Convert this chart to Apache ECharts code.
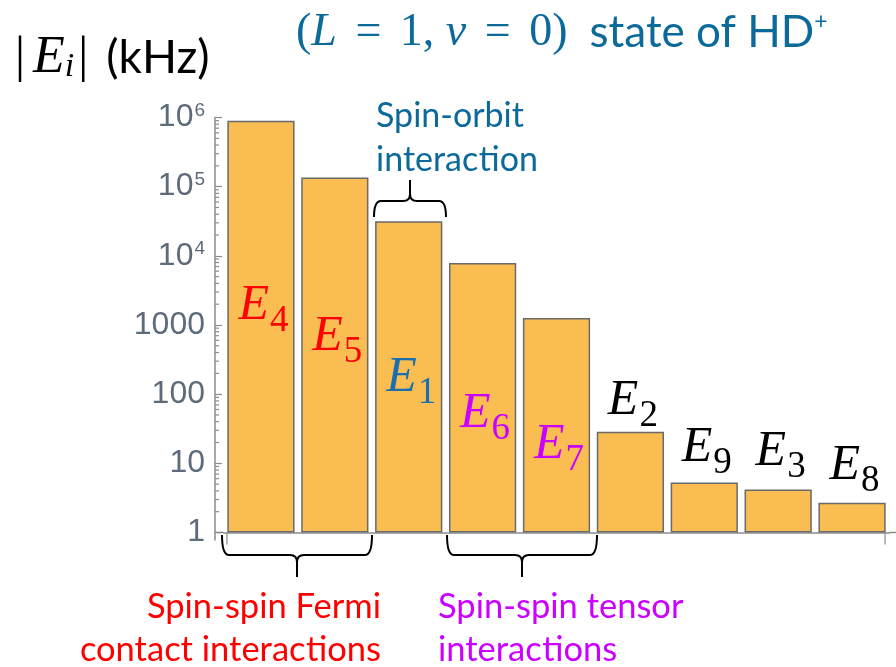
<!DOCTYPE html>
<html>
<head>
<meta charset="utf-8">
<script src="https://cdn.jsdelivr.net/npm/echarts@6/dist/echarts.min.js"></script>
<style>html,body{margin:0;padding:0;background:#fff;}#c{width:896px;height:667px;}</style>
</head>
<body>
<div id="c"></div>
<script>
// ---- data ----
var categories = ['E4', 'E5', 'E1', 'E6', 'E7', 'E2', 'E9', 'E3', 'E8'];
var labelMain = ['E', 'E', 'E', 'E', 'E', 'E', 'E', 'E', 'E'];
var labelSub = ['4', '5', '1', '6', '7', '2', '9', '3', '8'];
var values = [900000, 136000, 31600, 7900, 1260, 28.6, 5.3, 4.2, 2.7];
var labelColors = ['#ff0000', '#ff0000', '#1a6fb0', '#cc00ff', '#cc00ff', '#000000', '#000000', '#000000', '#000000'];
var labelMidY = [306, 337, 378, 414, 445, 401, 448, 452, 466];
var yTickValues = [1, 10, 100, 1000, 10000, 100000, 1000000];
var yTickLabels = ['1', '10', '100', '1000', '10{sup|4}', '10{sup|5}', '10{sup|6}'];
var minorTickValues = [];
for (var k = 0; k < 6; k++) { for (var m = 2; m <= 9; m++) { minorTickValues.push(m * Math.pow(10, k)); } }

var chart = echarts.init(document.getElementById('c'));
var axisGray = '#8c8c8c';
var tickColor = '#5e6b7a';

chart.setOption({
  animation: false,
  backgroundColor: '#ffffff',
  grid: { left: 224, right: 7, top: 117.5, bottom: 134.5, containLabel: false },
  xAxis: {
    type: 'category',
    data: categories,
    axisLine: { show: true, lineStyle: { color: axisGray, width: 1.5 } },
    axisTick: { show: false },
    axisLabel: { show: false },
    splitLine: { show: false }
  },
  yAxis: {
    type: 'log',
    logBase: 10,
    min: 1,
    max: 1000000,
    offset: 9,
    axisLine: { show: true, lineStyle: { color: axisGray, width: 1.5 } },
    axisTick: { show: true, inside: true, length: 7, lineStyle: { color: axisGray, width: 1.2 } },
    minorTick: { show: false },
    splitLine: { show: false },
    axisLabel: {
      margin: 10,
      color: tickColor,
      fontFamily: 'Liberation Sans',
      fontSize: 32,
      formatter: function (v) {
        var i = yTickValues.indexOf(Math.round(v));
        return i >= 0 ? yTickLabels[i] : '';
      },
      rich: {
        sup: { fontSize: 19, color: tickColor, fontFamily: 'Liberation Sans', verticalAlign: 'top', padding: [0, 0, 14, 1] }
      }
    }
  },
  series: [
    {
      type: 'bar',
      data: values,
      barCategoryGap: '9%',
      itemStyle: { color: '#f9bd52', borderColor: '#6a6a6a', borderWidth: 1.5 }
    },
    {
      type: 'custom',
      data: minorTickValues,
      encode: { y: 0 },
      clip: false,
      silent: true,
      renderItem: function (params, api) {
        var y = api.coord([0, api.value(0)])[1];
        var x0 = params.coordSys.x - 9;
        return { type: 'line', shape: { x1: x0, y1: y, x2: x0 + 4, y2: y }, style: { stroke: axisGray, lineWidth: 1.2 } };
      }
    }
  ]
});

// ---- annotations ----
var g = [];
var Z = 100;
var y1 = chart.convertToPixel({ yAxisIndex: 0 }, 1);
function ln(xa, ya, xb, yb, color, w) {
  return { type: 'line', z: Z, shape: { x1: xa, y1: ya, x2: xb, y2: yb }, style: { stroke: color, lineWidth: w } };
}
// extend x axis line to the y axis and right edge
g.push(ln(214.5, y1, 224, y1, axisGray, 1.5));
g.push(ln(889, y1, 896, y1, axisGray, 1.5));
g.push(ln(215, y1, 215, y1 + 8, axisGray, 1.5));
g.push(ln(227, y1, 227, y1 + 12, axisGray, 1.2));
g.push(ln(885, y1, 885, y1 + 12, axisGray, 1.2));

for (var i = 0; i < categories.length; i++) {
  var cx = chart.convertToPixel({ xAxisIndex: 0 }, categories[i]);
  g.push({
    type: 'text', z: Z, x: cx + 8, y: labelMidY[i],
    style: { text: labelMain[i], fill: labelColors[i], font: 'italic 50px "Liberation Serif"', align: 'right', verticalAlign: 'middle' }
  });
  g.push({
    type: 'text', z: Z, x: cx + 9, y: labelMidY[i] + 15,
    style: { text: labelSub[i], fill: labelColors[i], font: '37px "Liberation Serif"', align: 'left', verticalAlign: 'middle' }
  });
}

// braces
function bez(xa, ya, cx1, cy1, xb, yb) {
  return { type: 'bezierCurve', z: Z, shape: { x1: xa, y1: ya, cpx1: cx1, cpy1: cy1, x2: xb, y2: yb }, style: { stroke: '#000', lineWidth: 2, fill: null } };
}
function brace(xl, xr, yTop, yFlat, yTip) {
  var xm = (xl + xr) / 2, r = 7;
  var dir = yTip > yFlat ? 1 : -1;
  g.push(bez(xl, yTop, xl, yFlat, xl + r, yFlat));
  g.push(ln(xl + r, yFlat, xm - r, yFlat, '#000', 2));
  g.push(bez(xm - r, yFlat, xm, yFlat, xm, yFlat + dir * r));
  g.push(ln(xm, yFlat + dir * r, xm, yTip, '#000', 2));
  g.push(bez(xm + r, yFlat, xm, yFlat, xm, yFlat + dir * r));
  g.push(ln(xm + r, yFlat, xr - r, yFlat, '#000', 2));
  g.push(bez(xr, yTop, xr, yFlat, xr - r, yFlat));
}
brace(222, 372, 535, 555, 577);
brace(447, 597, 535, 555, 577);
brace(374, 446, 217, 201, 180);

// texts (split tokens avoid the "ti" ligature)
var sans = '"Lato"';
var blue = '#0b6a9a';
function txt(x, y, str, color, size, align) {
  return {
    type: 'text', z: Z, x: x, y: y,
    style: { text: str, fill: color, align: align || 'left', verticalAlign: 'middle',
      rich: {
        a: { font: size + 'px ' + sans, fill: color },
        b: { font: size + 'px ' + sans, fill: color, padding: [0, 0, 0, 0.5] }
      } }
  };
}
g.push(txt(376, 116, '{a|Spin-orbit}', blue, 34));
g.push(txt(376, 160, '{a|interac}{b|tion}', blue, 34));
g.push(txt(381, 607, '{a|Spin-spin Fermi}', '#ff0000', 34.5, 'right'));
g.push(txt(381, 650, '{a|contact interac}{b|tions}', '#ff0000', 34.5, 'right'));
g.push(txt(438, 607, '{a|Spin-spin tensor}', '#cc00ff', 34.5));
g.push(txt(438, 650, '{a|interac}{b|tions}', '#cc00ff', 34.5));

// title
g.push({
  type: 'text', z: Z, x: 296, y: 33,
  style: {
    text: '{m|(}{i|L}{m| }{e|=}{m| 1, }{i|v}{m| }{e|=}{m| 0)}{s|state of HD}{p|+}',
    fill: blue, verticalAlign: 'middle',
    rich: {
      m: { font: '46px "Liberation Serif"', fill: blue },
      i: { font: 'italic 46px "Liberation Serif"', fill: blue },
      e: { font: '46px "Liberation Serif"', fill: blue, padding: [0, 7, 0, 7] },
      s: { font: '44px ' + sans, fill: blue, padding: [0, 0, 0, 22] },
      p: { font: '23px ' + sans, fill: blue, verticalAlign: 'top', padding: [0, 0, 18, 0] }
    }
  }
});
g.push({
  type: 'text', z: Z, x: 15, y: 58,
  style: {
    text: '{m||}{i|E}{b|i}{m||}{s|(kHz)}',
    fill: '#000', verticalAlign: 'middle',
    rich: {
      m: { font: '50px "Liberation Serif"', fill: '#000' },
      i: { font: 'italic 52px "Liberation Serif"', fill: '#000', padding: [0, 0, 0, 8] },
      b: { font: 'italic 34px "Liberation Serif"', fill: '#000', verticalAlign: 'bottom', padding: [14, 4, 0, 0] },
      s: { font: '46px ' + sans, fill: '#000', padding: [0, 0, 0, 18] }
    }
  }
});

chart.setOption({ graphic: g });
</script>
</body>
</html>
